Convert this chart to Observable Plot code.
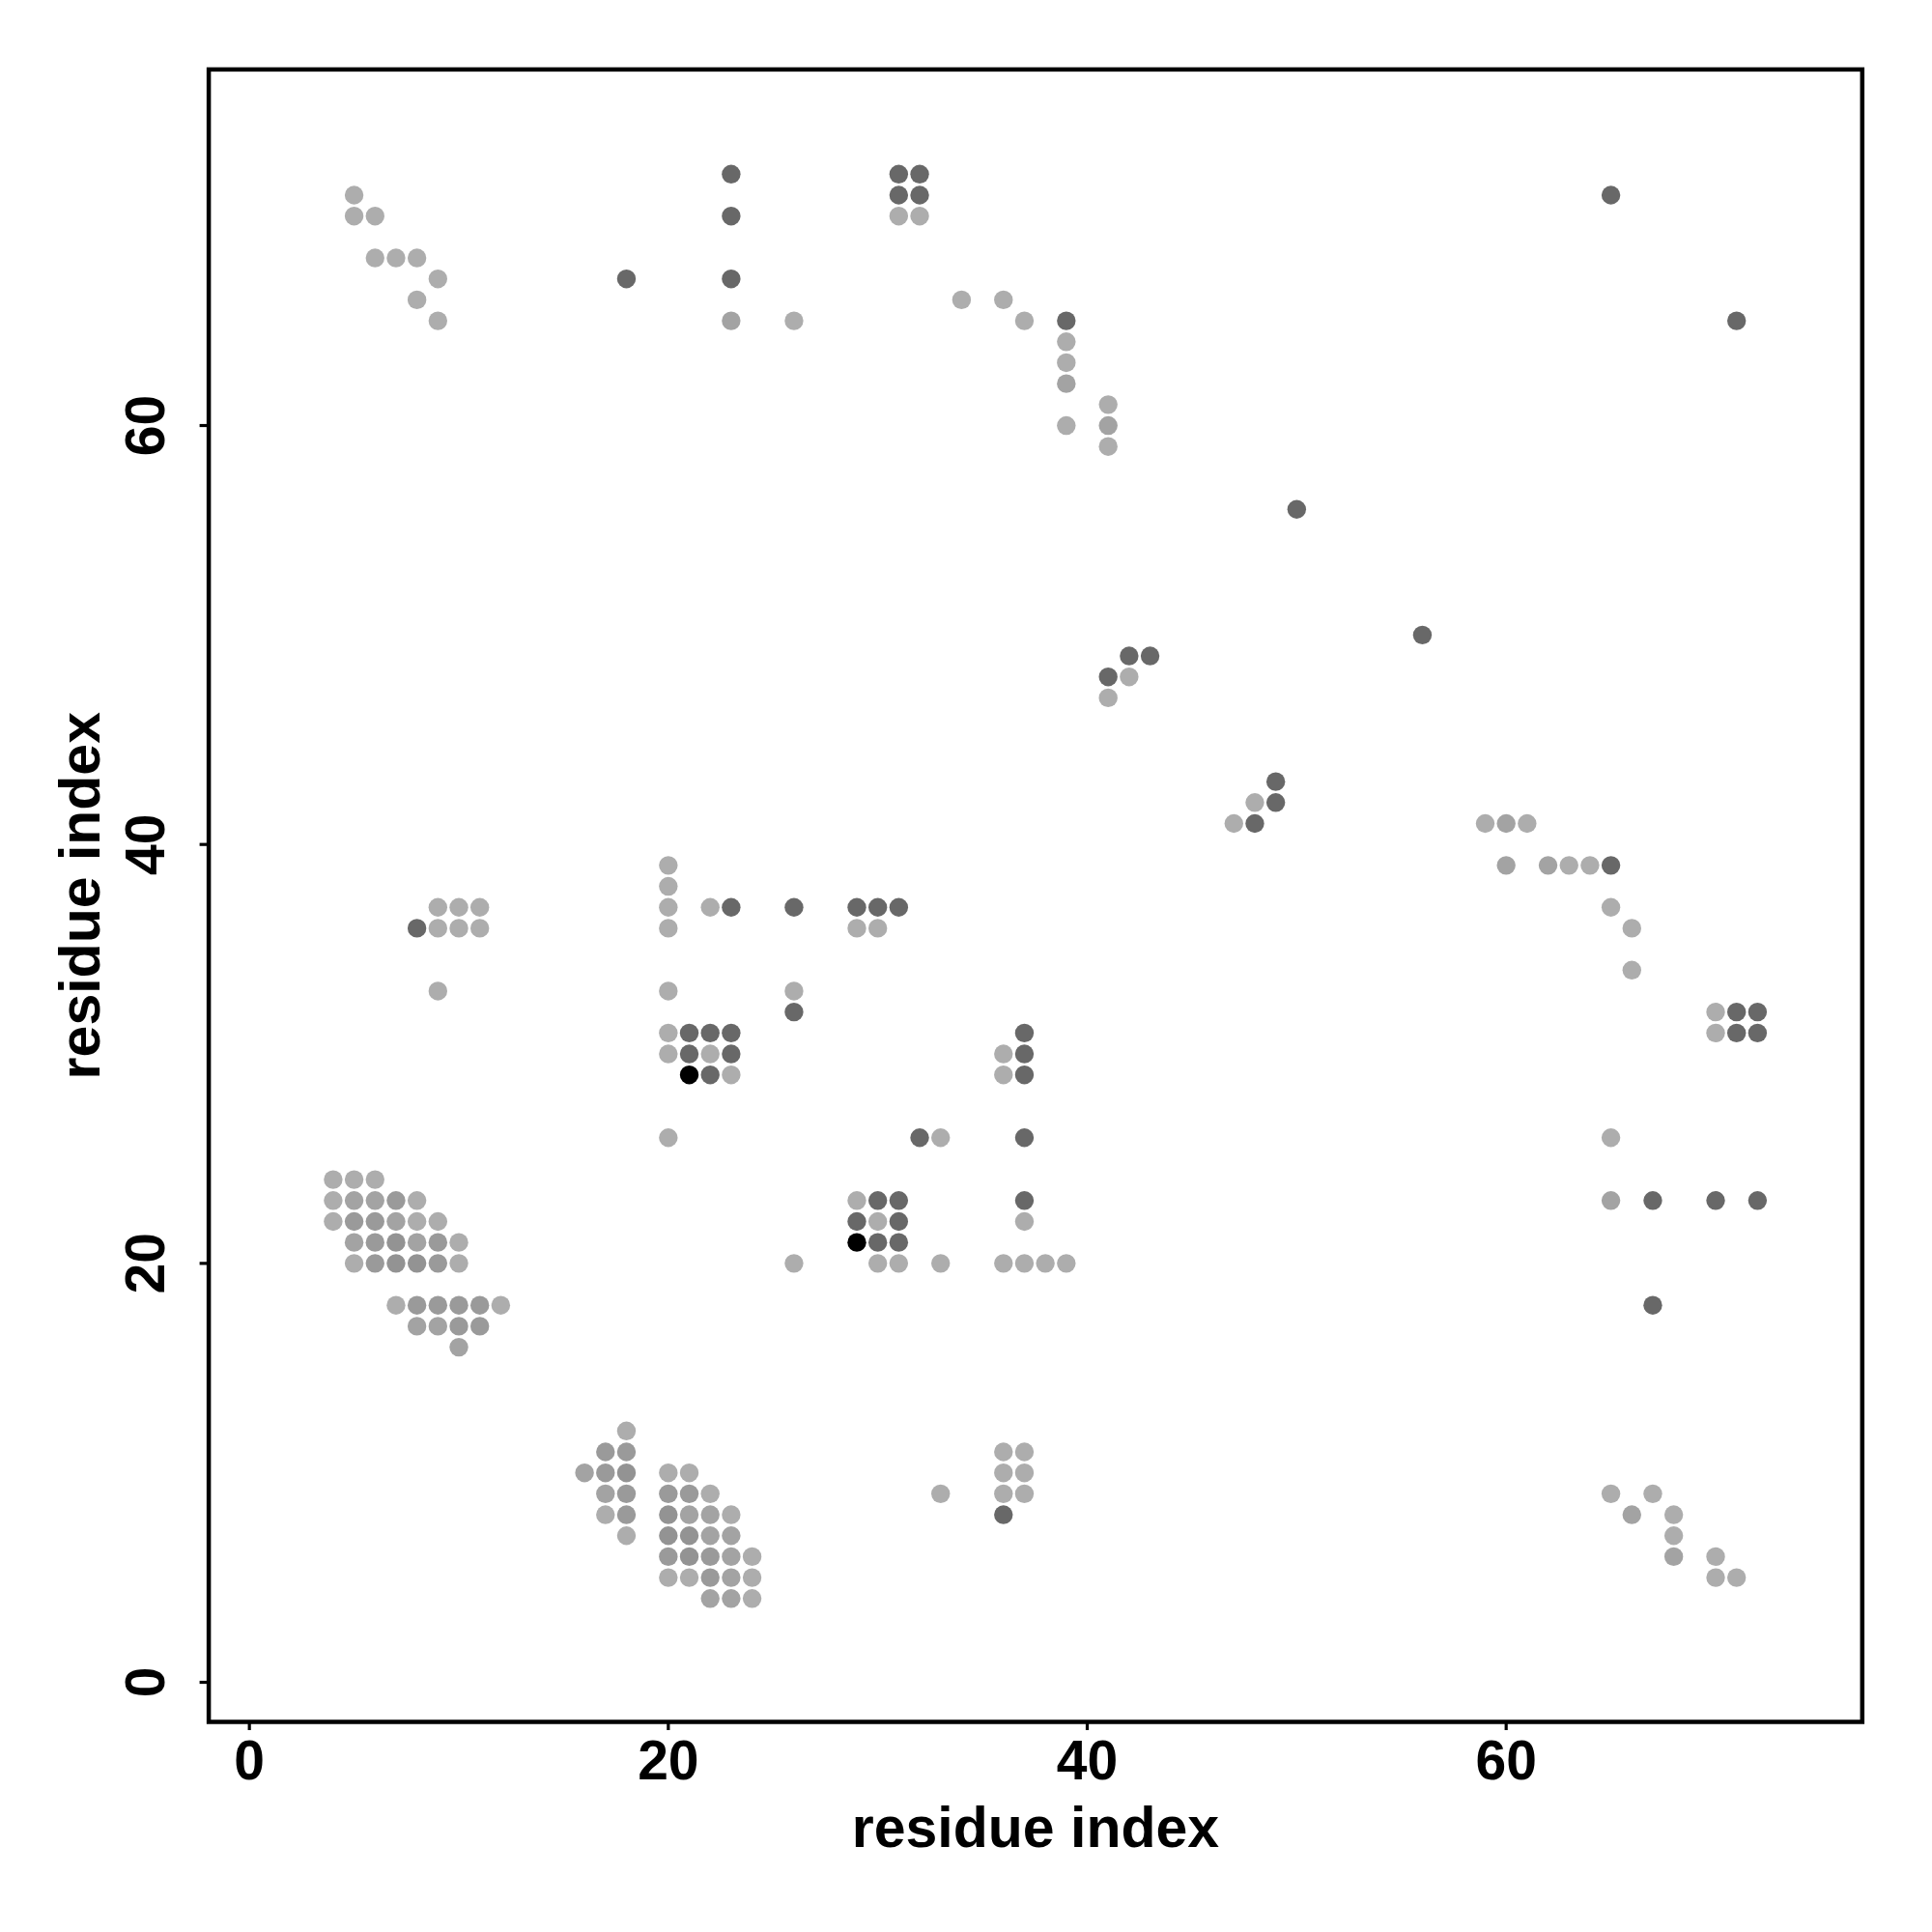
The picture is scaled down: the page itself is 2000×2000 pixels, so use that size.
<!DOCTYPE html>
<html>
<head>
<meta charset="utf-8">
<script src="https://cdn.jsdelivr.net/npm/d3@7"></script>
<script src="https://cdn.jsdelivr.net/npm/@observablehq/plot@0.6"></script>
<style>
  html, body { margin: 0; padding: 0; background: #ffffff; }
  #chart svg { display: block; }
</style>
</head>
<body>
<div id="chart"></div>
<script>
// Contact map: residue index i (x), residue index j (y), contact weight (0 = light grey, 1 = black)
const residueI = [
  5,5,6,6,7,8,9,8,9,
  18,23,23,23,23,26,
  31,32,31,32,31,32,
  34,36,37,39,39,39,39,39,41,41,41,
  50,56,
  41,42,43,42,41,
  47,48,48,49,49,
  65,71,
  59,60,61,60,62,63,64,65,65,66,66,
  70,71,72,70,71,72,
  9,10,11,8,9,10,11,9,
  20,20,20,20,22,23,26,29,30,31,29,30,
  20,26,26,
  20,21,22,23,
  20,21,22,23,
  21,22,23,
  20,
  36,37,37,36,37,
  32,33,37,
  29,30,31,
  29,30,31,
  29,30,31,
  30,31,33,26,
  37,37,
  36,37,38,39,
  4,5,6,
  4,5,6,7,8,
  4,5,6,7,8,9,
  5,6,7,8,9,10,
  5,6,7,8,9,10,
  7,8,9,10,11,12,
  8,9,10,11,
  10,
  18,
  17,18,
  16,17,18,20,21,
  17,18,20,21,22,
  17,18,20,21,22,23,
  18,20,21,22,23,
  20,21,22,23,24,
  20,21,22,23,24,
  22,23,24,
  33,
  36,37,36,37,36,37,36,
  65,65,67,70,72,67,
  65,67,66,68,68,68,70,70,71
];
const residueJ = [
  71,70,70,68,68,68,67,66,65,
  67,72,70,67,65,65,
  72,72,71,71,70,70,
  66,66,65,65,64,63,62,60,61,60,59,
  56,50,
  48,49,49,48,47,
  41,41,42,42,43,
  71,65,
  41,41,41,39,39,39,39,39,37,36,34,
  32,32,32,31,31,31,
  37,37,37,36,36,36,36,33,
  39,38,37,36,37,37,37,37,37,37,36,36,
  33,33,32,
  31,31,31,31,
  30,30,30,30,
  29,29,29,
  26,
  30,31,30,29,29,
  26,26,26,
  23,23,23,
  22,22,22,
  21,21,21,
  20,20,20,20,
  23,22,
  20,20,20,20,
  24,24,24,
  23,23,23,23,23,
  22,22,22,22,22,22,
  21,21,21,21,21,21,
  20,20,20,20,20,20,
  18,18,18,18,18,18,
  17,17,17,17,
  16,
  12,
  11,11,
  10,10,10,10,10,
  9,9,9,9,9,
  8,8,8,8,8,8,
  7,7,7,7,7,
  6,6,6,6,6,
  5,5,5,5,5,
  4,4,4,
  9,
  11,11,10,10,9,9,8,
  26,23,23,23,23,18,
  9,9,8,8,7,6,6,5,5
];
const contactWeight = [
  0,0,0,0,0,0,0,0,0,
  0.4,0.4,0.4,0.4,0.06,0,
  0.4,0.4,0.4,0.4,0,0,
  0,0,0,0.4,0,0,0.06,0,0,0.06,0,
  0.4,0.4,
  0.4,0.4,0.4,0,0,
  0,0.4,0,0.4,0.4,
  0.4,0.4,
  0,0.06,0,0.06,0.06,0,0,0.4,0,0,0,
  0,0.4,0.4,0,0.4,0.4,
  0,0,0,0.4,0,0,0,0,
  0,0,0,0,0,0.4,0.4,0.4,0.4,0.4,0,0,
  0,0,0.4,
  0,0.4,0.4,0.4,
  0,0.4,0,0.4,
  1,0.4,0,
  0,
  0,0.4,0.4,0,0.4,
  0.4,0,0.4,
  0,0.4,0.4,
  0.4,0,0.4,
  1,0.4,0.4,
  0,0,0,0,
  0.4,0,
  0,0,0,0,
  0,0,0,
  0,0.06,0.06,0.11,0,
  0,0.11,0.11,0.06,0,0,
  0.06,0.11,0.15,0.06,0.11,0,
  0,0.11,0.15,0.15,0.11,0,
  0,0.11,0.11,0.11,0.11,0,
  0.06,0.06,0.11,0.11,
  0.06,
  0,
  0.11,0.11,
  0.06,0.11,0.15,0,0,
  0.06,0.11,0.11,0.11,0,
  0,0.11,0.15,0.06,0.06,0,
  0,0.15,0.15,0.06,0.06,
  0.11,0.15,0.11,0.06,0,
  0,0,0.11,0.06,0,
  0.06,0.06,0,
  0,
  0,0,0,0,0,0,0.4,
  0,0.06,0.4,0.4,0.4,0.4,
  0,0,0.06,0,0,0.06,0,0,0
];

const xTicks = [0, 20, 40, 60];
const yTicks = [0, 20, 40, 60];
const xTitle = "residue index";
const yTitle = "residue index";

const contacts = residueI.map((i, k) => ({i, j: residueJ[k], w: contactWeight[k]}));

const font = "'Liberation Sans', Arial, Helvetica, sans-serif";

const chart = Plot.plot({
  width: 2000,
  height: 2000,
  marginLeft: 215.6,
  marginRight: 72.7,
  marginTop: 71.4,
  marginBottom: 218,
  style: {fontFamily: font, background: "#ffffff", color: "#000000"},
  x: {domain: [-1.94, 77.0], label: null},
  y: {domain: [-1.89, 77.0], label: null},
  color: {type: "linear", domain: [0, 1], range: ["#adadad", "#000000"], interpolate: "rgb"},
  marks: [
    Plot.dot(contacts, {x: "i", y: "j", fill: "w", r: 9.7, stroke: null}),
    Plot.frame({stroke: "#000000", strokeWidth: 4.5}),
    Plot.axisX(xTicks, {tickSize: 9, tickPadding: 10, fontSize: 57, fontWeight: "bold", label: null, strokeWidth: 3.2}),
    Plot.axisY(yTicks, {tickSize: 9, tickPadding: 37, tickRotate: -90, fontSize: 57, fontWeight: "bold", label: null, strokeWidth: 3.2}),
    Plot.text([xTitle], {text: d => d, frameAnchor: "bottom", dy: 129, textAnchor: "middle", lineAnchor: "bottom", fontSize: 59, fontWeight: "bold"}),
    Plot.text([yTitle], {text: d => d, frameAnchor: "left", dx: -113.6, rotate: -90, textAnchor: "middle", lineAnchor: "bottom", fontSize: 59, fontWeight: "bold"})
  ]
});

document.getElementById("chart").appendChild(chart);
</script>
</body>
</html>
